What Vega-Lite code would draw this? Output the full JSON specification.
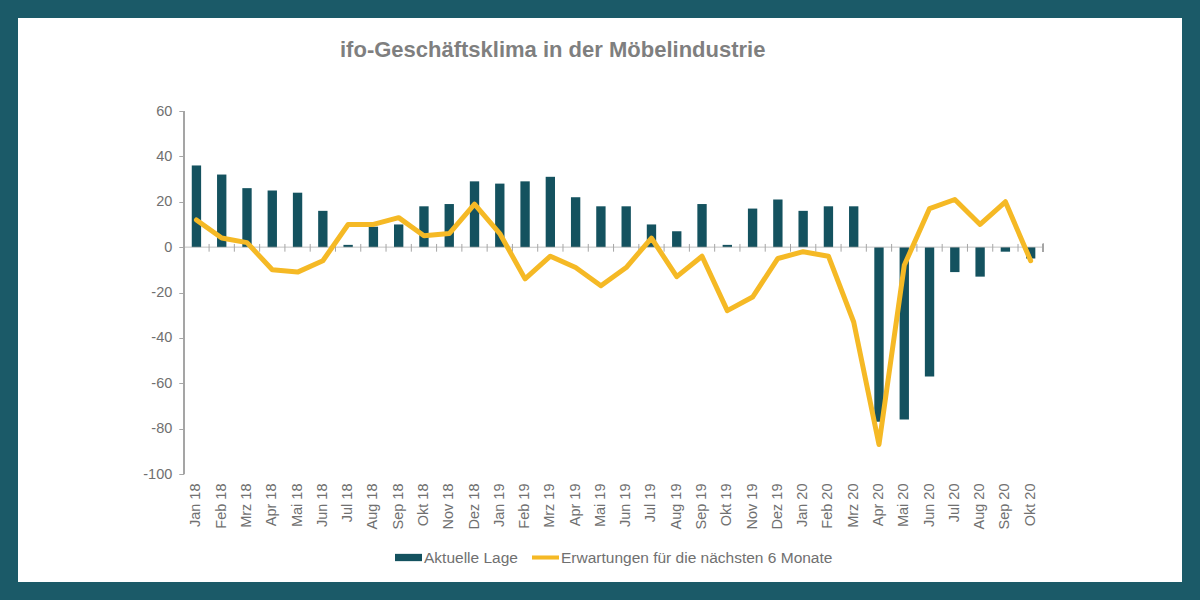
{
  "$schema": "https://vega.github.io/schema/vega-lite/v6.json",
  "width": 1164,
  "height": 564,
  "padding": 18,
  "autosize": {"type": "none"},
  "background": "#1b5a68",
  "title": {
    "text": "ifo-Geschäftsklima in der Möbelindustrie",
    "anchor": "start",
    "dx": 322,
    "offset": -61,
    "baseline": "alphabetic",
    "font": "Liberation Sans",
    "fontSize": 22,
    "fontWeight": "bold",
    "color": "#7f7f7f"
  },
  "config": {
    "view": {"fill": "white", "stroke": null},
    "font": "Liberation Sans",
    "axis": {"grid": false, "labelFont": "Liberation Sans", "labelColor": "#707070", "labelFontSize": 14.5}
  },
  "data": {
    "values": [
      {"m": "Jan 18", "lage": 36, "erw": 12},
      {"m": "Feb 18", "lage": 32, "erw": 4},
      {"m": "Mrz 18", "lage": 26, "erw": 2},
      {"m": "Apr 18", "lage": 25, "erw": -10},
      {"m": "Mai 18", "lage": 24, "erw": -11},
      {"m": "Jun 18", "lage": 16, "erw": -6},
      {"m": "Jul 18", "lage": 1, "erw": 10},
      {"m": "Aug 18", "lage": 9, "erw": 10},
      {"m": "Sep 18", "lage": 10, "erw": 13},
      {"m": "Okt 18", "lage": 18, "erw": 5},
      {"m": "Nov 18", "lage": 19, "erw": 6},
      {"m": "Dez 18", "lage": 29, "erw": 19},
      {"m": "Jan 19", "lage": 28, "erw": 6},
      {"m": "Feb 19", "lage": 29, "erw": -14},
      {"m": "Mrz 19", "lage": 31, "erw": -4},
      {"m": "Apr 19", "lage": 22, "erw": -9},
      {"m": "Mai 19", "lage": 18, "erw": -17},
      {"m": "Jun 19", "lage": 18, "erw": -9},
      {"m": "Jul 19", "lage": 10, "erw": 4},
      {"m": "Aug 19", "lage": 7, "erw": -13},
      {"m": "Sep 19", "lage": 19, "erw": -4},
      {"m": "Okt 19", "lage": 1, "erw": -28},
      {"m": "Nov 19", "lage": 17, "erw": -22},
      {"m": "Dez 19", "lage": 21, "erw": -5},
      {"m": "Jan 20", "lage": 16, "erw": -2},
      {"m": "Feb 20", "lage": 18, "erw": -4},
      {"m": "Mrz 20", "lage": 18, "erw": -33},
      {"m": "Apr 20", "lage": -77, "erw": -87},
      {"m": "Mai 20", "lage": -76, "erw": -8},
      {"m": "Jun 20", "lage": -57, "erw": 17},
      {"m": "Jul 20", "lage": -11, "erw": 21},
      {"m": "Aug 20", "lage": -13, "erw": 10},
      {"m": "Sep 20", "lage": -2, "erw": 20},
      {"m": "Okt 20", "lage": -5, "erw": -6}
    ]
  },
  "encoding": {
    "x": {
      "field": "m",
      "type": "ordinal",
      "sort": null,
      "scale": {
        "range": [165.8, 1025.3],
        "paddingInner": 0.63,
        "paddingOuter": 0.315,
        "align": 0.5,
        "round": false
      },
      "axis": {
        "orient": "bottom",
        "offset": -108,
        "ticks": false,
        "domain": false,
        "labelAngle": -90,
        "labelPadding": 9,
        "title": null
      }
    }
  },
  "layer": [
    {
      "mark": {"type": "bar", "color": "#14525f"},
      "encoding": {
        "y": {
          "field": "lage",
          "type": "quantitative",
          "scale": {"domain": [-147.6, 101], "nice": false},
          "axis": {
            "orient": "left",
            "offset": -165.8,
            "values": [-100, -80, -60, -40, -20, 0, 20, 40, 60],
            "labelExpr": "replace(datum.label, '−', '-')",
            "domain": false,
            "tickSize": 5,
            "tickColor": "#a6a6a6",
            "labelPadding": 7,
            "title": null
          }
        },
        "y2": {"datum": 0},
        "color": {
          "datum": "Aktuelle Lage",
          "scale": {
            "domain": ["Aktuelle Lage", "Erwartungen für die nächsten 6 Monate"],
            "range": ["#14525f", "#f5b925"]
          },
          "legend": {
            "orient": "none",
            "legendX": 377,
            "legendY": 526,
            "direction": "horizontal",
            "title": null,
            "labelFont": "Liberation Sans",
            "labelFontSize": 15.5,
            "labelColor": "#707070",
            "labelLimit": 600,
            "labelOffset": 2,
            "columnPadding": 14,
            "symbolSize": 729,
            "encode": {
              "symbols": {
                "update": {
                  "shape": {"signal": "datum.value == 'Aktuelle Lage' ? 'M-1,-0.27H1V0.27H-1Z' : 'M-1,-0.15H1V0.15H-1Z'"},
                  "fill": {"signal": "datum.value == 'Aktuelle Lage' ? '#14525f' : '#f5b925'"},
                  "stroke": {"value": "transparent"},
                  "strokeWidth": {"value": 0},
                  "opacity": {"value": 1}
                }
              }
            }
          }
        }
      }
    },
    {
      "mark": {"type": "tick", "orient": "horizontal", "size": 25.28, "thickness": 1, "color": "#a6a6a6"},
      "encoding": {
        "y": {"datum": 0}
      }
    },
    {
      "mark": {"type": "rule", "color": "#a6a6a6", "strokeWidth": 1},
      "encoding": {
        "x": {"field": "m", "type": "ordinal", "sort": null, "bandPosition": -0.8514},
        "y": {"datum": 1.4},
        "y2": {"datum": -2}
      }
    },
    {
      "mark": {"type": "rule", "color": "#a6a6a6", "strokeWidth": 1},
      "encoding": {
        "x": {"datum": "Okt 20", "type": "ordinal", "bandPosition": 1.8514},
        "y": {"datum": 1.4},
        "y2": {"datum": -2}
      }
    },
    {
      "mark": {"type": "rule", "color": "#a6a6a6", "strokeWidth": 1},
      "encoding": {
        "x": {"datum": "Jan 18", "type": "ordinal", "bandPosition": -0.8514},
        "y": {"datum": 60},
        "y2": {"datum": -100}
      }
    },
    {
      "mark": {"type": "line", "strokeWidth": 5, "strokeJoin": "round", "strokeCap": "round"},
      "encoding": {
        "y": {"field": "erw", "type": "quantitative"},
        "color": {"datum": "Erwartungen für die nächsten 6 Monate"}
      }
    }
  ]
}
